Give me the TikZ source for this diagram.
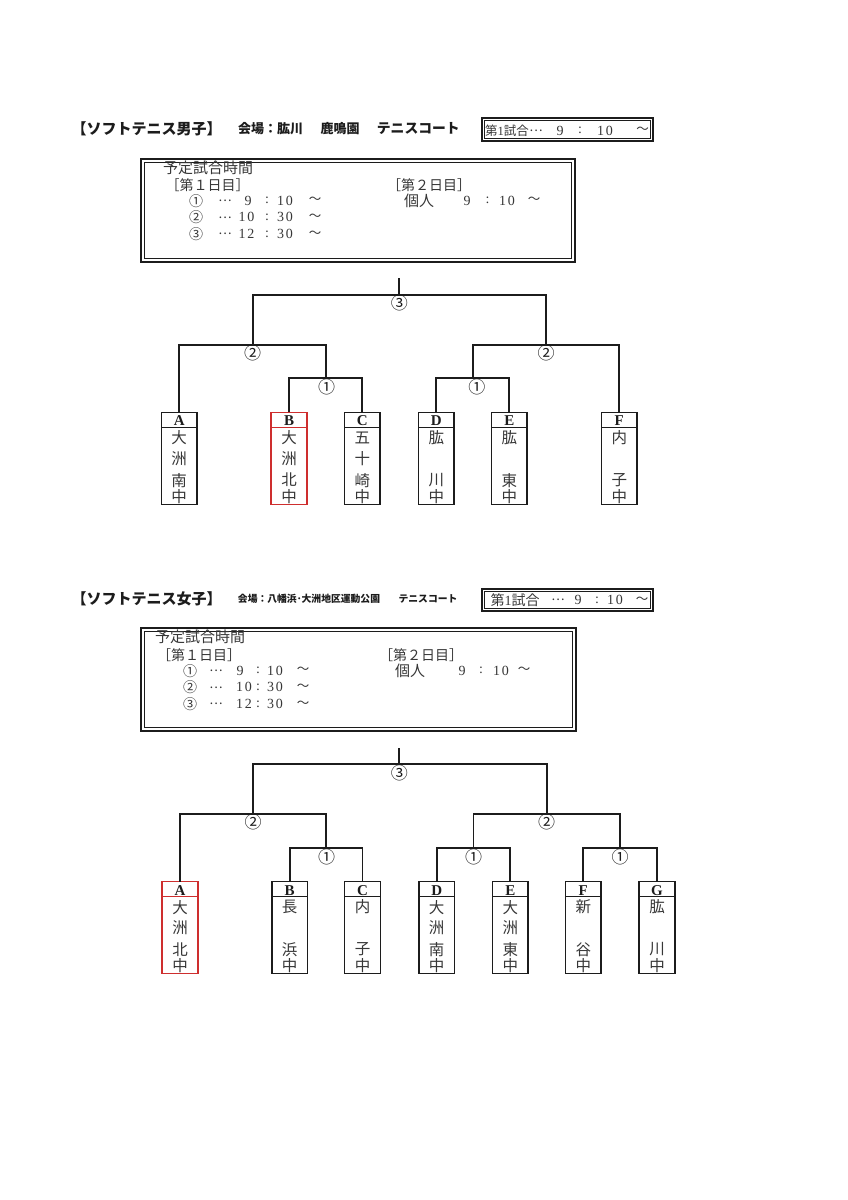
\documentclass[tikz,border=0pt]{standalone}
\usepackage{fontspec}
\newfontfamily\jp{Noto Sans CJK JP}
\newfontfamily\tm{Liberation Serif}
\definecolor{redbox}{RGB}{206,46,46}
\definecolor{ink}{RGB}{28,28,28}
\definecolor{stext}{RGB}{55,55,55}

\newcommand\dbox[5]{%
  \draw[outerbox] (#1+1,#2+1) rectangle (#3-1,#4-1);
  \draw[innerbox] (#1+#5,#2+#5) rectangle (#3-#5,#4-#5);}

\newcommand\tbox[9]{%
  \node[team,draw=#9] (#1) at (#2,#3) {};
  \draw[draw=#9,line width=1.3pt] ([yshift=-15pt]#1.north west) -- ([yshift=-15pt]#1.north east);
  \node[lt] (#1l) at ([yshift=-8.6pt]#1.north) {#4};
  \node[ch] (#1a) at ([yshift=-25.6pt]#1.north) {#5};
  \node[ch] (#1b) at ([yshift=-46.4pt]#1.north) {#6};
  \node[ch] (#1c) at ([yshift=-67.8pt]#1.north) {#7};
  \node[ch] (#1d) at ([yshift=-84pt]#1.north) {#8};}

\begin{document}
\begin{tikzpicture}[x=1pt,y=-1pt,
  br/.style={line width=1.7pt,draw=ink},
  team/.style={draw=ink,line width=1.6pt,minimum width=35.8pt,minimum height=92pt,inner sep=0pt,outer sep=0pt},
  lt/.style={font=\tm\bfseries\fontsize{15}{15}\selectfont,inner sep=0pt,text=ink},
  ch/.style={font=\jp\fontsize{15.5}{15.5}\selectfont,inner sep=0pt,text=stext},
  rnd/.style={font=\jp\fontsize{17}{17}\selectfont,inner sep=0pt,text=ink},
  hd/.style={font=\jp\bfseries\fontsize{15}{15}\selectfont,inner sep=0pt,text=ink},
  ven/.style={font=\jp\bfseries\fontsize{13}{13}\selectfont,inner sep=0pt,text=ink},
  vent/.style={font=\jp\bfseries\fontsize{13.8}{13.8}\selectfont,inner sep=0pt,text=ink},
  vens/.style={font=\jp\bfseries\fontsize{9.8}{9.8}\selectfont,inner sep=0pt,text=ink},
  sj/.style={font=\jp\fontsize{14}{14}\selectfont,inner sep=0pt,text=stext},
  sjl/.style={font=\jp\fontsize{15}{15}\selectfont,inner sep=0pt,text=stext},
  sc/.style={font=\jp\fontsize{14}{14}\selectfont,inner sep=0pt,text=stext},
  sd/.style={font=\jp\fontsize{12.5}{12.5}\selectfont,inner sep=0pt,text=stext},
  sn/.style={font=\tm\fontsize{14}{14}\selectfont,inner sep=0pt,text=stext},
  tj/.style={font=\jp\fontsize{12.5}{12.5}\selectfont,inner sep=0pt,text=stext},
  tjl/.style={font=\jp\fontsize{14}{14}\selectfont,inner sep=0pt,text=stext},
  outerbox/.style={draw=ink,line width=2pt},
  innerbox/.style={draw=ink,line width=0.8pt},
]
\fill[white] (0,0) rectangle (848,1200);
\useasboundingbox (0,0) rectangle (848,1200);

% ================= MALE =================
\node[hd] (mh) at (146.7,128.7) {【ソフトテニス男子】};
\node[ven] (mv1) at (270.7,128.7) {会場：肱川};
\node[ven] (mv2) at (340,128.7) {鹿鳴園};
\node[vent] (mv3) at (418.3,128.7) {テニスコート};

\dbox{480.7}{117}{654}{141.7}{3.3}
\node[tj] (mt1) at (507,130.7) {第{\tm 1}試合};
\node[sd] (mt2) at (536,130.7) {…};
\node[sn] (mt3) at (560,130.7) {9};
\node[sn] (mt4) at (580,130.7) {:};
\node[sn] (mt5) at (605,130.7) {1\kern2pt0};
\node[tj] (mt6) at (642.5,130.7) {〜};

\dbox{140}{157.7}{576}{262.5}{4.5}
\node[sjl] (ms0) at (208,168) {予定試合時間};
\node[sj] (ms1) at (207.5,185) {［第１日目］};
\node[sc] (ms1a) at (196,200.7) {①};
\node[sd] (ms1b) at (225,200.7) {…};
\node[sn] (ms1c) at (248,200.7) {9};
\node[sn] (ms1d) at (267,200.7) {:};
\node[sn] (ms1e) at (285,200.7) {1\kern2pt0};
\node[sd] (ms1f) at (315,200.7) {〜};
\node[sc] (ms2a) at (196,217.3) {②};
\node[sd] (ms2b) at (225,217.3) {…};
\node[sn] (ms2c) at (246.5,217.3) {1\kern2pt0};
\node[sn] (ms2d) at (267,217.3) {:};
\node[sn] (ms2e) at (285,217.3) {3\kern2pt0};
\node[sd] (ms2f) at (315,217.3) {〜};
\node[sc] (ms3a) at (196,234) {③};
\node[sd] (ms3b) at (225,234) {…};
\node[sn] (ms3c) at (246.5,234) {1\kern2pt2};
\node[sn] (ms3d) at (267,234) {:};
\node[sn] (ms3e) at (285,234) {3\kern2pt0};
\node[sd] (ms3f) at (315,234) {〜};
\node[sj] (md2) at (429,185) {［第２日目］};
\node[sjl] (md2a) at (419,200.7) {個人};
\node[sn] (md2b) at (467,200.7) {9};
\node[sn] (md2c) at (487.5,200.7) {:};
\node[sn] (md2d) at (507,200.7) {1\kern2pt0};
\node[sd] (md2e) at (534,200.7) {〜};

% teams
\tbox{mA}{179.2}{458.35}{A}{大}{洲}{南}{中}{ink}
\tbox{mB}{289}{458.35}{B}{大}{洲}{北}{中}{redbox}
\tbox{mC}{362.3}{458.35}{C}{五}{十}{崎}{中}{ink}
\tbox{mD}{436.3}{458.35}{D}{肱}{}{川}{中}{ink}
\tbox{mE}{509.3}{458.35}{E}{肱}{}{東}{中}{ink}
\tbox{mF}{619.3}{458.35}{F}{内}{}{子}{中}{ink}

\coordinate (mtop) at (399.3,278);
\coordinate (mj3) at (399.3,295);
\coordinate (mj2L) at (252.7,345);
\coordinate (mj2R) at (546,345);
\coordinate (mj1L) at (325.7,378);
\coordinate (mj1R) at (472.8,378);

\draw[br] (mA.north) |- (mj2L) -| (mj1L);
\draw[br] (mB.north) |- (mj1L) -| (mC.north);
\draw[br] (mj2L) |- (mj3) -| (mj2R);
\draw[br] (mj3) -- (mtop);
\draw[br] (mj1R) |- (mj2R) -| (mF.north);
\draw[br] (mD.north) |- (mj1R) -| (mE.north);

\node[rnd] (mr3) at ([yshift=-8.5pt]mj3) {③};
\node[rnd] (mr2L) at ([yshift=-8.5pt]mj2L) {②};
\node[rnd] (mr2R) at ([yshift=-8.5pt]mj2R) {②};
\node[rnd] (mr1L) at ([shift={(1pt,-9pt)}]mj1L) {①};
\node[rnd] (mr1R) at ([shift={(4pt,-9pt)}]mj1R) {①};

% ================= FEMALE =================
\node[hd] (fh) at (146.7,598.7) {【ソフトテニス女子】};
\node[vens] (fv1) at (309,598.7) {会場：八幡浜･大洲地区運動公園};
\node[vens] (fv2) at (428,598.7) {テニスコート};

\dbox{480.7}{588}{654}{611.7}{3.3}
\node[tjl] (ft1) at (515,600) {第{\tm 1}試合};
\node[sd] (ft2) at (558,600) {…};
\node[sn] (ft3) at (578,600) {9};
\node[sn] (ft4) at (597,600) {:};
\node[sn] (ft5) at (615,600) {1\kern2pt0};
\node[tj] (ft6) at (642,600) {〜};

\dbox{140}{626.7}{576.7}{731.7}{4.5}
\node[sjl] (fs0) at (200,636.7) {予定試合時間};
\node[sj] (fs1) at (199,655) {［第１日目］};
\node[sc] (fs1a) at (190,670.7) {①};
\node[sd] (fs1b) at (216,670.7) {…};
\node[sn] (fs1c) at (240,670.7) {9};
\node[sn] (fs1d) at (258,670.7) {:};
\node[sn] (fs1e) at (275,670.7) {1\kern2pt0};
\node[sd] (fs1f) at (303,670.7) {〜};
\node[sc] (fs2a) at (190,687.3) {②};
\node[sd] (fs2b) at (216,687.3) {…};
\node[sn] (fs2c) at (244,687.3) {1\kern2pt0};
\node[sn] (fs2d) at (258,687.3) {:};
\node[sn] (fs2e) at (275,687.3) {3\kern2pt0};
\node[sd] (fs2f) at (303,687.3) {〜};
\node[sc] (fs3a) at (190,704) {③};
\node[sd] (fs3b) at (216,704) {…};
\node[sn] (fs3c) at (244,704) {1\kern2pt2};
\node[sn] (fs3d) at (258,704) {:};
\node[sn] (fs3e) at (275,704) {3\kern2pt0};
\node[sd] (fs3f) at (303,704) {〜};
\node[sj] (fd2) at (421,655) {［第２日目］};
\node[sjl] (fd2a) at (410,670.7) {個人};
\node[sn] (fd2b) at (462,670.7) {9};
\node[sn] (fd2c) at (481,670.7) {:};
\node[sn] (fd2d) at (501,670.7) {1\kern2pt0};
\node[sd] (fd2e) at (524,670.7) {〜};

% teams
\tbox{fA}{180}{927.5}{A}{大}{洲}{北}{中}{redbox}
\tbox{fB}{289.7}{927.5}{B}{長}{}{浜}{中}{ink}
\tbox{fC}{362.5}{927.5}{C}{内}{}{子}{中}{ink}
\tbox{fD}{436.7}{927.5}{D}{大}{洲}{南}{中}{ink}
\tbox{fE}{510.3}{927.5}{E}{大}{洲}{東}{中}{ink}
\tbox{fF}{583.3}{927.5}{F}{新}{}{谷}{中}{ink}
\tbox{fG}{657}{927.5}{G}{肱}{}{川}{中}{ink}

\coordinate (ftop) at (399.3,748);
\coordinate (fj3) at (399.3,764.3);
\coordinate (fj2L) at (253,814);
\coordinate (fj2R) at (546.7,814);
\coordinate (fj1L) at (326.1,848);
\coordinate (fj1M) at (473.5,848);
\coordinate (fj1R) at (620.1,848);

\draw[br] (fA.north) |- (fj2L) -| (fj1L);
\draw[br] (fB.north) |- (fj1L) -| (fC.north);
\draw[br] (fj2L) |- (fj3) -| (fj2R);
\draw[br] (fj3) -- (ftop);
\draw[br] (fj1M) |- (fj2R) -| (fj1R);
\draw[br] (fD.north) |- (fj1M) -| (fE.north);
\draw[br] (fF.north) |- (fj1R) -| (fG.north);

\node[rnd] (fr3) at ([yshift=-8.5pt]fj3) {③};
\node[rnd] (fr2L) at ([yshift=-8.5pt]fj2L) {②};
\node[rnd] (fr2R) at ([yshift=-8.5pt]fj2R) {②};
\node[rnd] (fr1L) at ([shift={(0.5pt,-9pt)}]fj1L) {①};
\node[rnd] (fr1M) at ([yshift=-9pt]fj1M) {①};
\node[rnd] (fr1R) at ([yshift=-9pt]fj1R) {①};
\end{tikzpicture}
\end{document}
